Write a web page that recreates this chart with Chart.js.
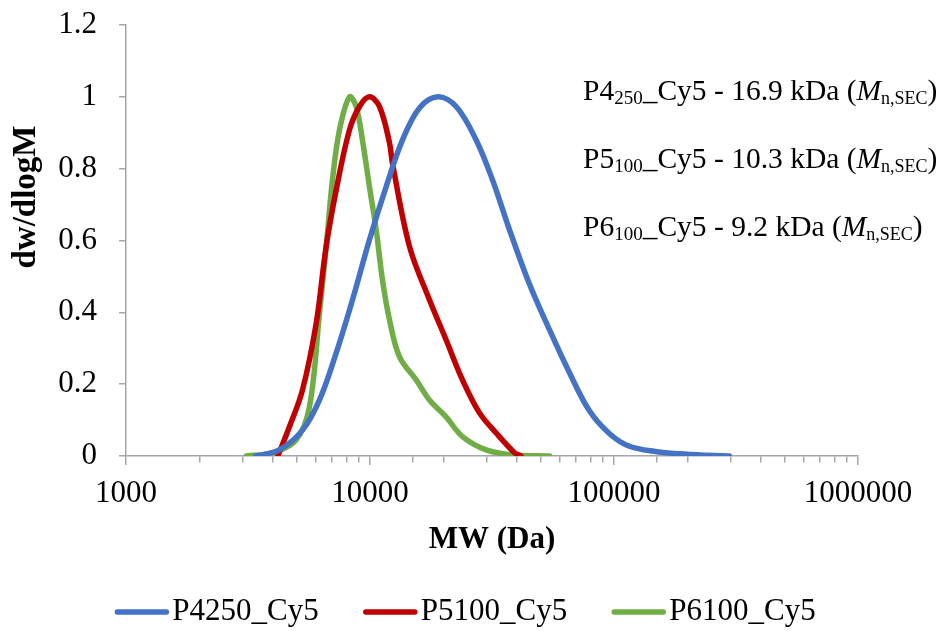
<!DOCTYPE html>
<html>
<head>
<meta charset="utf-8">
<script src="https://cdn.jsdelivr.net/npm/chart.js@4.4.0/dist/chart.umd.min.js"></script>
<style>
  html, body { margin: 0; padding: 0; background: #fff; }
  #wrap { width: 941px; height: 631px; }
</style>
</head>
<body>
<div id="wrap"><canvas id="grafico" width="941" height="631"></canvas></div>
<script>
// ---------- datos ----------
const serieNombres = ['P4250_Cy5', 'P5100_Cy5', 'P6100_Cy5'];

const azulMW = [3400, 4250, 5290, 6210, 7270, 8480, 9950, 11650, 13590, 15950, 18970, 22550, 27230, 31760, 37290, 45060, 54430, 65780, 79430, 95900, 115700, 150000, 185000, 240000, 297000];
const azulY  = [0, 0.017, 0.072, 0.156, 0.287, 0.435, 0.602, 0.750, 0.880, 0.969, 1.0, 0.973, 0.880, 0.769, 0.630, 0.478, 0.351, 0.231, 0.125, 0.062, 0.027, 0.012, 0.006, 0.002, 0];

const rojoMW = [4190, 4680, 5290, 6020, 6610, 7270, 8240, 9060, 9950, 10940, 12020, 12360, 14520, 17520, 20520, 23930, 28100, 32890, 39000, 41500];
const rojoY  = [0, 0.082, 0.184, 0.370, 0.583, 0.741, 0.908, 0.973, 1.0, 0.973, 0.872, 0.815, 0.583, 0.435, 0.323, 0.212, 0.120, 0.064, 0.010, 0];

const verdeMW = [3110, 3985, 4983, 5649, 6209, 6614, 7018, 7499, 8240, 8775, 9310, 9953, 10600, 11250, 12020, 13210, 15460, 17520, 20500, 23930, 29930, 38370, 54430];
const verdeY  = [0, 0.009, 0.045, 0.137, 0.398, 0.583, 0.769, 0.908, 1.0, 0.973, 0.880, 0.749, 0.630, 0.490, 0.379, 0.276, 0.212, 0.156, 0.109, 0.054, 0.017, 0.003, 0];

const xTicksMayores = [1000, 10000, 100000, 1000000];
const yTicks = [0, 0.2, 0.4, 0.6, 0.8, 1, 1.2];

// textos de anotacion: [normal, subindice, resto]
const anotaciones = [
  ['P4', '250', '_Cy5 - 16.9 kDa ('],
  ['P5', '100', '_Cy5 - 10.3 kDa ('],
  ['P6', '100', '_Cy5 - 9.2 kDa (']
];

// paleta
const colorAzul = '#4472C4';
const colorRojo = '#C00000';
const colorVerde = '#70AD47';
const colorEje = '#A6A6A6';
const fuente = "'Liberation Serif', 'Times New Roman', serif";

const puntos = (xs, ys) => xs.map((x, i) => ({ x: x, y: ys[i] }));

// ---------- plugin de textos y leyenda ----------
const textosExtra = {
  id: 'textosExtra',
  afterDraw(chart) {
    const ctx = chart.ctx;
    ctx.save();
    ctx.fillStyle = '#000';
    ctx.textBaseline = 'alphabetic';

    // anotaciones a la derecha
    anotaciones.forEach((a, i) => {
      let x = 583;
      const y = 100 + i * 68;
      ctx.font = '29.5px ' + fuente;
      ctx.fillText(a[0], x, y); x += ctx.measureText(a[0]).width;
      ctx.font = '19px ' + fuente;
      ctx.fillText(a[1], x, y + 4); x += ctx.measureText(a[1]).width;
      ctx.font = '29.5px ' + fuente;
      ctx.fillText(a[2], x, y); x += ctx.measureText(a[2]).width;
      ctx.font = 'italic 29.5px ' + fuente;
      ctx.fillText('M', x, y); x += ctx.measureText('M').width;
      ctx.font = '18px ' + fuente;
      ctx.fillText('n,SEC', x, y + 4); x += ctx.measureText('n,SEC').width;
      ctx.font = '29.5px ' + fuente;
      ctx.fillText(')', x, y);
    });

    // titulos de ejes
    ctx.textAlign = 'center';
    ctx.textBaseline = 'middle';
    const area = chart.chartArea;
    ctx.font = 'bold 31px ' + fuente;
    ctx.fillText('MW (Da)', (area.left + area.right) / 2, 540);
    ctx.save();
    ctx.translate(26, 197);
    ctx.rotate(-Math.PI / 2);
    ctx.font = 'bold 33px ' + fuente;
    ctx.fillText('dw/dlogM', 0, 0);
    ctx.restore();

    // leyenda inferior
    ctx.font = '31px ' + fuente;
    ctx.textAlign = 'left';
    const largoLinea = 55, sep = 3, hueco = 44, yLey = 612;
    const items = chart.data.datasets.map(ds => ({
      texto: ds.label, color: ds.borderColor, ancho: ctx.measureText(ds.label).width
    }));
    const total = items.reduce((s, it) => s + largoLinea + sep + it.ancho, 0) + hueco * (items.length - 1);
    let x = 465 - total / 2;
    items.forEach(it => {
      ctx.strokeStyle = it.color;
      ctx.lineWidth = 5.5;
      ctx.lineCap = 'round';
      ctx.beginPath();
      ctx.moveTo(x + 3, yLey);
      ctx.lineTo(x + largoLinea - 3, yLey);
      ctx.stroke();
      x += largoLinea + sep;
      ctx.fillText(it.texto, x, yLey);
      x += it.ancho + hueco;
    });
    ctx.restore();
  }
};

// marcas menores del eje x mas cortas que las mayores
const esMayor = ctx => ctx.tick && xTicksMayores.includes(ctx.tick.value);

const ctxGrafico = document.getElementById('grafico').getContext('2d');
const grafico = new Chart(ctxGrafico, {
  type: 'line',
  data: {
    datasets: [
      { label: serieNombres[0], data: puntos(azulMW, azulY), borderColor: colorAzul, backgroundColor: colorAzul },
      { label: serieNombres[1], data: puntos(rojoMW, rojoY), borderColor: colorRojo, backgroundColor: colorRojo },
      { label: serieNombres[2], data: puntos(verdeMW, verdeY), borderColor: colorVerde, backgroundColor: colorVerde }
    ]
  },
  options: {
    responsive: false,
    animation: false,
    devicePixelRatio: 1,
    elements: {
      line: { borderWidth: 5.5, tension: 0.35, borderCapStyle: 'round', borderJoinStyle: 'round' },
      point: { radius: 0 }
    },
    layout: { padding: { left: 0, right: 83, top: 25, bottom: 0 } },
    plugins: {
      legend: { display: false },
      tooltip: { enabled: false }
    },
    scales: {
      x: {
        type: 'logarithmic',
        min: 1000,
        max: 1000000,
        afterFit: s => { s.height = 175; },
        border: { color: colorEje, width: 1.5 },
        grid: {
          drawOnChartArea: false, drawTicks: true, tickLength: 9, color: colorEje, lineWidth: 1.5,
          tickBorderDash: c => esMayor(c) ? [] : [6, 20]
        },
        ticks: {
          autoSkip: false,
          maxRotation: 0,
          padding: 10,
          color: '#000',
          font: { family: fuente, size: 31 },
          callback: v => xTicksMayores.includes(v) ? String(v) : ''
        }
      },
      y: {
        min: 0,
        max: 1.2,
        afterFit: s => { s.width = 126; },
        afterBuildTicks: s => { s.ticks = yTicks.map(v => ({ value: v })); },
        border: { color: colorEje, width: 1.5 },
        // marca larga para separar las etiquetas, pero solo se ven los 7 px junto al eje
        grid: {
          drawOnChartArea: false, drawTicks: true, tickLength: 23, color: colorEje, lineWidth: 1.5,
          tickBorderDash: [7, 16], tickBorderDashOffset: 7
        },
        ticks: {
          padding: 6,
          color: '#000',
          font: { family: fuente, size: 31 },
          callback: v => String(+v.toFixed(1))
        }
      }
    }
  },
  plugins: [textosExtra]
});
</script>
</body>
</html>
